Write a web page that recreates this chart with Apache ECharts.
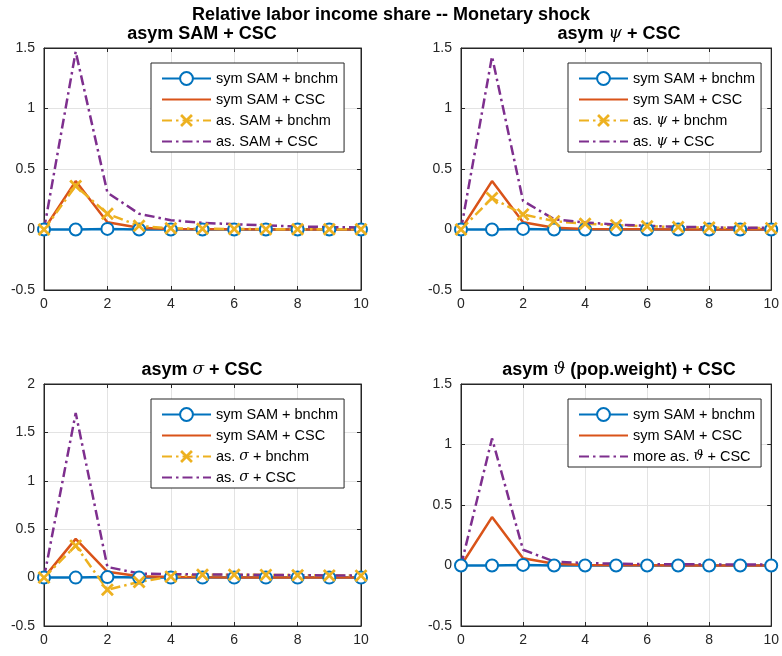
<!DOCTYPE html>
<html>
<head>
<meta charset="utf-8">
<script src="https://cdn.jsdelivr.net/npm/echarts@6/dist/echarts.min.js"></script>
<style>
  html, body { margin: 0; padding: 0; background: #fff; }
  #chart { width: 782px; height: 656px; }
</style>
</head>
<body>
<div id="chart"></div>
<script>
// quarters after the shock
let steps = [0, 1, 2, 3, 4, 5, 6, 7, 8, 9, 10];

// shared benchmark lines
let symSamBnchm = [0, 0, 0.005, 0, 0, 0, 0, 0, 0, 0, 0];
let symSamCsc = [0, 0.40, 0.06, 0.015, 0.005, 0.003, 0.002, 0.001, 0.001, 0.001, 0.001];

// asym SAM panel
let asSamBnchm = [0, 0.36, 0.13, 0.03, 0.01, 0.006, 0.004, 0.003, 0.002, 0.002, 0.002];
let asSamCsc = [0, 1.47, 0.305, 0.13, 0.077, 0.055, 0.044, 0.033, 0.025, 0.02, 0.017];

// asym psi panel
let asPsiBnchm = [0, 0.26, 0.125, 0.069, 0.047, 0.036, 0.027, 0.02, 0.016, 0.013, 0.011];
let asPsiCsc = [0, 1.43, 0.236, 0.085, 0.058, 0.041, 0.03, 0.022, 0.018, 0.015, 0.013];

// asym sigma panel
let asSigmaBnchm = [0, 0.33, -0.125, -0.045, 0.01, 0.03, 0.03, 0.028, 0.025, 0.022, 0.02];
let asSigmaCsc = [0, 1.70, 0.11, 0.042, 0.035, 0.032, 0.03, 0.027, 0.025, 0.022, 0.02];

// asym theta panel
let moreAsThetaCsc = [0, 1.05, 0.13, 0.033, 0.02, 0.015, 0.012, 0.01, 0.009, 0.008, 0.007];

let panelTitles = ["asym SAM + CSC", "asym {g|ψ} + CSC", "asym {g|σ} + CSC", "asym {g|ϑ} (pop.weight) + CSC"];
let yMax = [1.5, 1.5, 2, 1.5];

let blue = "#0072BD", red = "#D95319", yellow = "#EDB120", purple = "#7E2F8E";
let xMark = "path://M1.5,0L5,3.5L8.5,0L10,1.5L6.5,5L10,8.5L8.5,10L5,6.5L1.5,10L0,8.5L3.5,5L0,1.5Z";
let dashDot = [10, 4, 2.5, 4];

let grids = [
    {left: 44, top: 48},
    {left: 461, top: 48},
    {left: 44, top: 384},
    {left: 461, top: 384}
];

function pairs(arr) {
    return steps.map((s, i) => [s, arr[i]]);
}

function makeSeries(name, arr, g, kind) {
    let s = {
        name: name,
        type: "line",
        xAxisIndex: g,
        yAxisIndex: g,
        data: pairs(arr),
        animation: false,
        silent: true
    };
    if (kind == "circle") {
        s.symbol = "emptyCircle";
        s.symbolSize = 12;
        s.lineStyle = {color: blue, width: 2.5};
        s.itemStyle = {color: blue, borderColor: blue, borderWidth: 2.5};
    }
    else if (kind == "solid") {
        s.symbol = "none";
        s.lineStyle = {color: red, width: 2.5};
        s.itemStyle = {color: red};
    }
    else if (kind == "cross") {
        s.symbol = xMark;
        s.symbolSize = 13;
        s.lineStyle = {color: yellow, width: 2.5, type: dashDot};
        s.itemStyle = {color: yellow};
    }
    else {
        s.symbol = "none";
        s.lineStyle = {color: purple, width: 2.5, type: dashDot};
        s.itemStyle = {color: purple};
    }
    return s;
}

let panelSeries = [
    [["sym SAM + bnchm", symSamBnchm, "circle"], ["sym SAM + CSC", symSamCsc, "solid"], ["as. SAM + bnchm", asSamBnchm, "cross"], ["as. SAM + CSC", asSamCsc, "dashdot"]],
    [["sym SAM + bnchm", symSamBnchm, "circle"], ["sym SAM + CSC", symSamCsc, "solid"], ["as. ψ + bnchm", asPsiBnchm, "cross"], ["as. ψ + CSC", asPsiCsc, "dashdot"]],
    [["sym SAM + bnchm", symSamBnchm, "circle"], ["sym SAM + CSC", symSamCsc, "solid"], ["as. σ + bnchm", asSigmaBnchm, "cross"], ["as. σ + CSC", asSigmaCsc, "dashdot"]],
    [["sym SAM + bnchm", symSamBnchm, "circle"], ["sym SAM + CSC", symSamCsc, "solid"], ["more as. ϑ + CSC", moreAsThetaCsc, "dashdot"]]
];

let greek = {fontFamily: "DejaVu Serif", fontStyle: "italic", fontSize: 14, color: "#000"};
let font = "Liberation Sans";
let axisColor = "#262626";

let option = {
    backgroundColor: "#fff",
    textStyle: {fontFamily: font},
    title: [{
        text: "Relative labor income share -- Monetary shock",
        left: "center",
        top: 1,
        textStyle: {fontSize: 18, fontWeight: "bold", color: "#000", fontFamily: font}
    }],
    grid: [],
    xAxis: [],
    yAxis: [],
    legend: [],
    series: []
};

for (let i = 0; i < 4; i++) {
    let g = grids[i];
    option.grid.push({
        left: g.left, top: g.top, width: 317, height: 242,
        show: true, borderColor: axisColor, borderWidth: 1, backgroundColor: "#fff"
    });
    option.title.push({
        text: panelTitles[i],
        left: g.left + 153,
        textAlign: "center",
        top: g.top - 28,
        textStyle: {
            fontSize: 18, fontWeight: "bold", color: "#000", fontFamily: font,
            rich: {g: {fontFamily: "DejaVu Serif", fontStyle: "italic", fontWeight: "normal", fontSize: 17, color: "#000"}}
        }
    });
    option.xAxis.push({
        type: "value", gridIndex: i, min: 0, max: 10, interval: 2,
        axisLine: {show: true, onZero: false, lineStyle: {color: axisColor}},
        axisTick: {show: true, inside: true, length: 4, lineStyle: {color: axisColor}},
        axisLabel: {fontSize: 14, color: axisColor, margin: 7, fontFamily: font},
        splitLine: {show: true, lineStyle: {color: "#e3e3e3"}}
    });
    option.yAxis.push({
        type: "value", gridIndex: i, min: -0.5, max: yMax[i], interval: 0.5,
        axisLine: {show: true, onZero: false, lineStyle: {color: axisColor}},
        axisTick: {show: true, inside: true, length: 4, lineStyle: {color: axisColor}},
        axisLabel: {fontSize: 14, color: axisColor, margin: 9, fontFamily: font},
        splitLine: {show: true, lineStyle: {color: "#e3e3e3"}}
    });

    let legendItems = [];
    for (let k = 0; k < panelSeries[i].length; k++) {
        let p = panelSeries[i][k];
        option.series.push(makeSeries(p[0], p[1], i, p[2]));
        if (p[2] == "solid" || p[2] == "dashdot") {
            // plain line in the legend, no marker
            legendItems.push({name: p[0], itemStyle: {opacity: 0}});
        }
        else {
            legendItems.push({name: p[0]});
        }
    }

    option.legend.push({
        orient: "vertical",
        left: g.left + 107,
        top: g.top + 15,
        z: 10,
        backgroundColor: "#fff",
        borderColor: axisColor,
        borderWidth: 1,
        borderRadius: 0,
        padding: [8, 6, 3, 10],
        itemGap: 6,
        itemWidth: 49,
        itemHeight: 16,
        selectedMode: false,
        textStyle: {fontSize: 14.5, color: "#000", fontFamily: font, rich: {g: greek}},
        formatter: function (name) {
            return name.replace(/([ψσϑ])/g, "{g|$1}");
        },
        data: legendItems
    });
}

// box ticks on top and right, like the matlab axes
for (let i = 0; i < 4; i++) {
    option.xAxis.push({
        type: "value", gridIndex: i, position: "top", min: 0, max: 10, interval: 2,
        axisLine: {show: true, onZero: false, lineStyle: {color: axisColor}},
        axisTick: {show: true, inside: true, length: 4, lineStyle: {color: axisColor}},
        axisLabel: {show: false},
        splitLine: {show: false}
    });
    option.yAxis.push({
        type: "value", gridIndex: i, position: "right", min: -0.5, max: yMax[i], interval: 0.5,
        axisLine: {show: true, onZero: false, lineStyle: {color: axisColor}},
        axisTick: {show: true, inside: true, length: 4, lineStyle: {color: axisColor}},
        axisLabel: {show: false},
        splitLine: {show: false}
    });
}

let chart = echarts.init(document.getElementById("chart"));
chart.setOption(option);
</script>
</body>
</html>
